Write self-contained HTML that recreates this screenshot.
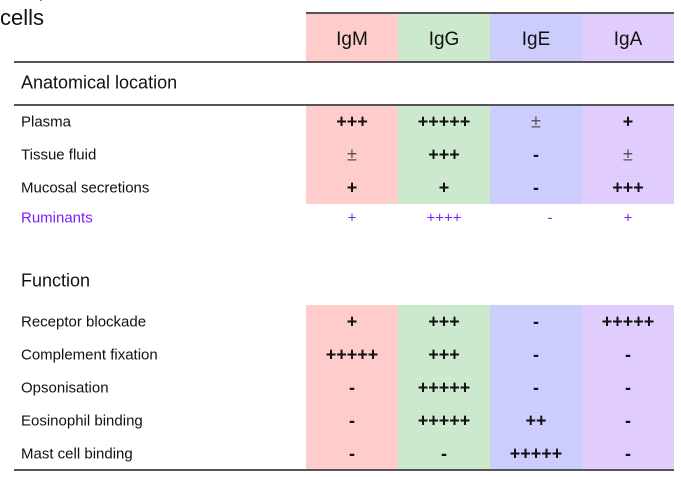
<!DOCTYPE html>
<html><head><meta charset="utf-8"><style>
body{margin:0;width:681px;height:477px;background:#fff;position:relative;overflow:hidden;font-family:"Liberation Sans",sans-serif;color:#111}
.a{position:absolute}
.col{position:absolute;width:92px}
.t{position:absolute;font-size:15px;white-space:nowrap;transform:translateY(-50%)}
.c{position:absolute;width:92px;text-align:center;font-size:18px;font-weight:bold;transform:translateY(-50%)}
.line{position:absolute;height:1.5px;background:#555}
.h{position:absolute;width:92px;text-align:center;font-size:19px;transform:translateY(-50%)}
.p{color:#7a1fff;font-weight:normal;font-size:15px}
.pm{font-weight:normal;color:#555}
</style></head><body>
<div class="a" style="left:0;top:5px;font-size:22px;">cells</div>
<div class="a" style="left:38px;top:-22px;font-size:22px;">,</div>

<div class="col" style="left:306px;top:13px;height:48px;background:#ffcccc"></div>
<div class="col" style="left:398px;top:13px;height:48px;background:#cde9cd"></div>
<div class="col" style="left:490px;top:13px;height:48px;background:#ccccfd"></div>
<div class="col" style="left:582px;top:13px;height:48px;background:#e0ccfd"></div>

<div class="col" style="left:306px;top:104px;height:100px;background:#ffcccc"></div>
<div class="col" style="left:398px;top:104px;height:100px;background:#cde9cd"></div>
<div class="col" style="left:490px;top:104px;height:100px;background:#ccccfd"></div>
<div class="col" style="left:582px;top:104px;height:100px;background:#e0ccfd"></div>

<div class="col" style="left:306px;top:305px;height:165px;background:#ffcccc"></div>
<div class="col" style="left:398px;top:305px;height:165px;background:#cde9cd"></div>
<div class="col" style="left:490px;top:305px;height:165px;background:#ccccfd"></div>
<div class="col" style="left:582px;top:305px;height:165px;background:#e0ccfd"></div>

<div class="line" style="left:306px;width:368px;top:12px"></div>
<div class="line" style="left:14px;width:660px;top:61px"></div>
<div class="line" style="left:14px;width:660px;top:104px"></div>
<div class="line" style="left:14px;width:660px;top:469px"></div>

<div class="h" style="left:306px;top:40px">IgM</div>
<div class="h" style="left:398px;top:40px">IgG</div>
<div class="h" style="left:490px;top:40px">IgE</div>
<div class="h" style="left:582px;top:40px">IgA</div>

<div class="t" style="left:21px;top:83px;font-size:18px">Anatomical location</div>
<div class="t" style="left:21px;top:281px;font-size:18px">Function</div>

<div class="t" style="left:21px;top:122px">Plasma</div>
<div class="c" style="left:306px;top:122px">+++</div><div class="c" style="left:398px;top:122px">+++++</div><div class="c pm" style="left:490px;top:122px">±</div><div class="c" style="left:582px;top:122px">+</div>
<div class="t" style="left:21px;top:155px">Tissue fluid</div>
<div class="c pm" style="left:306px;top:155px">±</div><div class="c" style="left:398px;top:155px">+++</div><div class="c" style="left:490px;top:155px">-</div><div class="c pm" style="left:582px;top:155px">±</div>
<div class="t" style="left:21px;top:188px">Mucosal secretions</div>
<div class="c" style="left:306px;top:188px">+</div><div class="c" style="left:398px;top:188px">+</div><div class="c" style="left:490px;top:188px">-</div><div class="c" style="left:582px;top:188px">+++</div>
<div class="t" style="left:21px;top:218px;color:#7a1fff">Ruminants</div>
<div class="c p" style="left:306px;top:218px">+</div><div class="c p" style="left:398px;top:218px">++++</div><div class="c p" style="left:504px;top:218px">-</div><div class="c p" style="left:582px;top:218px">+</div>

<div class="t" style="left:21px;top:322px">Receptor blockade</div>
<div class="c" style="left:306px;top:322px">+</div><div class="c" style="left:398px;top:322px">+++</div><div class="c" style="left:490px;top:322px">-</div><div class="c" style="left:582px;top:322px">+++++</div>
<div class="t" style="left:21px;top:355px">Complement fixation</div>
<div class="c" style="left:306px;top:355px">+++++</div><div class="c" style="left:398px;top:355px">+++</div><div class="c" style="left:490px;top:355px">-</div><div class="c" style="left:582px;top:355px">-</div>
<div class="t" style="left:21px;top:388px">Opsonisation</div>
<div class="c" style="left:306px;top:388px">-</div><div class="c" style="left:398px;top:388px">+++++</div><div class="c" style="left:490px;top:388px">-</div><div class="c" style="left:582px;top:388px">-</div>
<div class="t" style="left:21px;top:421px">Eosinophil binding</div>
<div class="c" style="left:306px;top:421px">-</div><div class="c" style="left:398px;top:421px">+++++</div><div class="c" style="left:490px;top:421px">++</div><div class="c" style="left:582px;top:421px">-</div>
<div class="t" style="left:21px;top:454px">Mast cell binding</div>
<div class="c" style="left:306px;top:454px">-</div><div class="c" style="left:398px;top:454px">-</div><div class="c" style="left:490px;top:454px">+++++</div><div class="c" style="left:582px;top:454px">-</div>
</body></html>
